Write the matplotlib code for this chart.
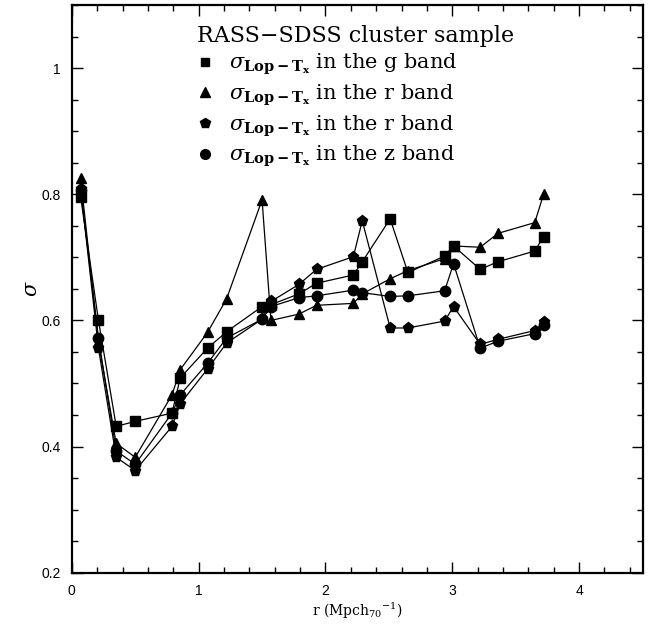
import matplotlib
matplotlib.use("Agg")
import matplotlib.pyplot as plt
from matplotlib.ticker import MultipleLocator, FixedLocator, FixedFormatter
from matplotlib.lines import Line2D

plt.rcParams['mathtext.fontset'] = 'dejavuserif'

r = [0.07, 0.21, 0.35, 0.50, 0.79, 0.855, 1.07, 1.22, 1.50, 1.57, 1.79, 1.93,
     2.22, 2.29, 2.51, 2.65, 2.94, 3.01, 3.22, 3.36, 3.65, 3.72]

sigma_g = [0.795, 0.600, 0.432, 0.440, 0.453, 0.509, 0.556, 0.582, 0.622, 0.625, 0.642, 0.659,
           0.672, 0.693, 0.761, 0.676, 0.702, 0.718, 0.681, 0.693, 0.710, 0.733]
sigma_r1 = [0.825, 0.565, 0.405, 0.383, 0.482, 0.522, 0.581, 0.634, 0.791, 0.600, 0.610, 0.624,
            0.627, 0.642, 0.666, 0.679, 0.698, 0.718, 0.716, 0.738, 0.755, 0.800]
sigma_r2 = [0.808, 0.556, 0.383, 0.362, 0.432, 0.468, 0.523, 0.564, 0.602, 0.630, 0.657, 0.681,
            0.701, 0.758, 0.588, 0.588, 0.599, 0.622, 0.562, 0.570, 0.584, 0.597]
sigma_z = [0.807, 0.572, 0.393, 0.372, 0.453, 0.482, 0.532, 0.572, 0.602, 0.622, 0.636, 0.639,
           0.648, 0.644, 0.638, 0.639, 0.647, 0.690, 0.556, 0.567, 0.579, 0.592]

series = [
    (sigma_g, 's', 6.5, 'g'),
    (sigma_r1, '^', 7, 'r'),
    (sigma_r2, 'p', 8, 'r'),
    (sigma_z, 'o', 7.5, 'z'),
]

yticks = [0.2, 0.4, 0.6, 0.8, 1.0]
ytick_labels = ['0.2', '0.4', '0.6', '0.8', '1']
xticks = [0, 1, 2, 3, 4]
xtick_labels = ['0', '1', '2', '3', '4']

fig = plt.figure(figsize=(6.59, 6.28), dpi=100)
ax = fig.add_axes([0.109, 0.088, 0.866, 0.904])

handles = []
labels = []
for vals, mk, ms, band in series:
    ax.plot(r, vals, color='black', lw=0.9, marker=mk, ms=ms, mfc='black', mec='black')
    handles.append(Line2D([], [], ls='none', marker=mk, ms=ms - 0.5, color='black'))
    labels.append(r'$\sigma_{\mathbf{Lop-T_x}}$' + ' in the ' + band + ' band')

ax.set_xlim(0, 4.5)
ax.set_ylim(0.2, 1.1)
ax.xaxis.set_major_locator(FixedLocator(xticks))
ax.xaxis.set_major_formatter(FixedFormatter(xtick_labels))
ax.xaxis.set_minor_locator(MultipleLocator(0.2))
ax.yaxis.set_major_locator(FixedLocator(yticks))
ax.yaxis.set_major_formatter(FixedFormatter(ytick_labels))
ax.yaxis.set_minor_locator(MultipleLocator(0.05))

ax.tick_params(which='both', direction='in', top=True, right=True, width=1.0)
ax.tick_params(which='major', length=8, labelsize=10, pad=8)
ax.tick_params(which='minor', length=4)
for lab in ax.get_xticklabels() + ax.get_yticklabels():
    lab.set_family('Liberation Sans')
for sp in ax.spines.values():
    sp.set_linewidth(1.6)

ax.set_xlabel(r'r (Mpch$_{70}$$^{-1}$)', family='DejaVu Serif', fontsize=10, labelpad=2)
ax.set_ylabel(r'$\sigma$', fontsize=15, labelpad=0)

leg = ax.legend(handles, labels, title='RASS\u2212SDSS cluster sample', loc='upper left',
                bbox_to_anchor=(0.19, 0.995), frameon=False, handlelength=0.8,
                handletextpad=0.75, labelspacing=0.25, borderpad=0.3,
                prop={'family': 'DejaVu Serif', 'size': 15})
leg.get_title().set_family('DejaVu Serif')
leg.get_title().set_fontsize(16)
leg._legend_box.align = 'left'

fig.savefig('out.png', dpi=100)
